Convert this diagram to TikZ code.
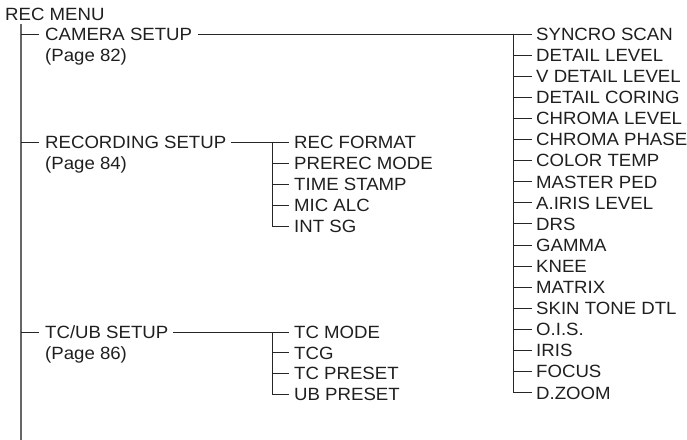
\documentclass[tikz,border=0pt]{standalone}
\usepackage{fontspec}
\setmainfont[FakeStretch=1.05]{Liberation Sans}
\usetikzlibrary{positioning}
\tikzset{
  item/.style={anchor=west, inner sep=0pt, text=black!88, text height=12.7bp, text depth=0pt},
  branch/.style={draw=black!85, line width=0.9bp},
  spine/.style={draw=black!60, line width=1.8bp}
}
\begin{document}
\begin{tikzpicture}[x={(1bp,0)}, y={(0,-1bp)}, font=\fontsize{17.8}{21}\selectfont]
\useasboundingbox (0,0) rectangle (687,440);
% top level
\node[item] (menu) at (5,14) {REC MENU};
\coordinate (top) at (21,24);
\coordinate (bottom) at (21,440);
\draw[spine] (top) -- (bottom);
% second level
\node[item] (cam) at (45,34) {CAMERA SETUP};
\node[item] (campg) at (45,55) {(Page 82)};
\node[item] (rec) at (45,142) {RECORDING SETUP};
\node[item] (recpg) at (45,163) {(Page 84)};
\node[item] (tc) at (45,332) {TC/UB SETUP};
\node[item] (tcpg) at (45,353) {(Page 86)};
\foreach \n in {cam,rec,tc}
  \draw[branch] (top |- \n.west) -- ([xshift=-6]\n.west);
% camera setup items
\coordinate (camfork) at (513,34);
\foreach \txt [count=\i] in {SYNCRO SCAN,DETAIL LEVEL,V DETAIL LEVEL,DETAIL CORING,CHROMA LEVEL,CHROMA PHASE,COLOR TEMP,MASTER PED,A.IRIS LEVEL,DRS,GAMMA,KNEE,MATRIX,SKIN TONE DTL,O.I.S.,IRIS,FOCUS,D.ZOOM}
  \node[item] (c\i) at (536,{34+21.1*(\i-1)}) {\txt};
\draw[branch] ([xshift=6]cam.east) -- (camfork);
\draw[branch] (camfork) |- ([xshift=-4]c18.west);
\foreach \i in {1,...,17}
  \draw[branch] (camfork |- c\i.west) -- ([xshift=-4]c\i.west);
% recording setup items
\coordinate (recfork) at (272,142);
\foreach \txt [count=\i] in {REC FORMAT,PREREC MODE,TIME STAMP,MIC ALC,INT SG}
  \node[item] (r\i) at (294,{142+21*(\i-1)}) {\txt};
\draw[branch] ([xshift=5]rec.east) -- (recfork);
\draw[branch] (recfork) |- ([xshift=-5]r5.west);
\foreach \i in {1,...,4}
  \draw[branch] (recfork |- r\i.west) -- ([xshift=-5]r\i.west);
% tc/ub setup items
\coordinate (tcfork) at (272,332);
\foreach \txt [count=\i] in {TC MODE,TCG,TC PRESET,UB PRESET}
  \node[item] (t\i) at (294,{332+20.7*(\i-1)}) {\txt};
\draw[branch] ([xshift=5]tc.east) -- (tcfork);
\draw[branch] (tcfork) |- ([xshift=-5]t4.west);
\foreach \i in {1,...,3}
  \draw[branch] (tcfork |- t\i.west) -- ([xshift=-5]t\i.west);
\end{tikzpicture}
\end{document}
